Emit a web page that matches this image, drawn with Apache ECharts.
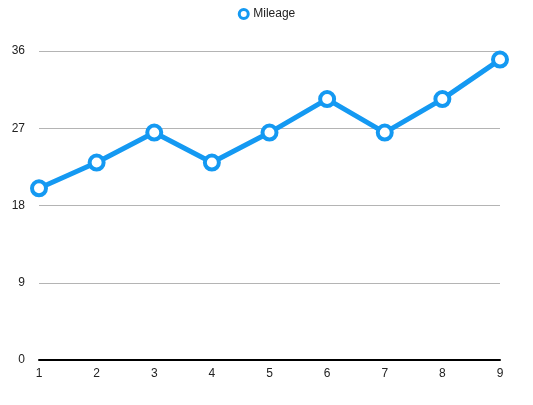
<!DOCTYPE html>
<html>
<head>
<meta charset="UTF-8">
<title></title>
<script src="https://cdn.jsdelivr.net/npm/echarts@6/dist/echarts.min.js"></script>
<style>
  html, body { margin: 0; padding: 0; background: #fff; }
  #main { width: 533px; height: 405px; }
</style>
</head>
<body>
<div id="main"></div>
<script>
// data
var categories = ['1', '2', '3', '4', '5', '6', '7', '8', '9'];
var mileage = [20, 23, 26.5, 23, 26.5, 30.4, 26.5, 30.4, 35];
var yTicks = { min: 0, max: 36, interval: 9 };

var myChart = echarts.init(document.getElementById('main'));
var option = {
  animation: false,
  textStyle: { fontFamily: 'Liberation Sans, Arial, sans-serif' },
  legend: {
    top: 3,
    left: 'center',
    icon: 'circle',
    itemWidth: 9,
    itemHeight: 9,
    itemGap: 7,
    itemStyle: { color: '#fff', borderColor: '#1499f2', borderWidth: 3 },
    textStyle: { fontSize: 12, color: '#222' },
    data: ['Mileage']
  },
  grid: { left: 39, right: 33, top: 51, bottom: 45 },
  xAxis: {
    type: 'category',
    data: categories,
    boundaryGap: false,
    axisLine: { lineStyle: { color: '#000', width: 2 } },
    axisTick: { show: false },
    axisLabel: { color: '#222', fontSize: 12, margin: 8 }
  },
  yAxis: {
    type: 'value',
    min: yTicks.min,
    max: yTicks.max,
    interval: yTicks.interval,
    axisLine: { show: false },
    axisTick: { show: false },
    axisLabel: { color: '#222', fontSize: 12, margin: 14 },
    splitLine: { lineStyle: { color: '#b4b4b4', width: 1 } }
  },
  series: [{
    name: 'Mileage',
    type: 'line',
    data: mileage,
    symbol: 'circle',
    symbolSize: 14,
    lineStyle: { color: '#1499f2', width: 5 },
    itemStyle: { color: '#fff', borderColor: '#1499f2', borderWidth: 4 }
  }]
};
myChart.setOption(option);
</script>
</body>
</html>
